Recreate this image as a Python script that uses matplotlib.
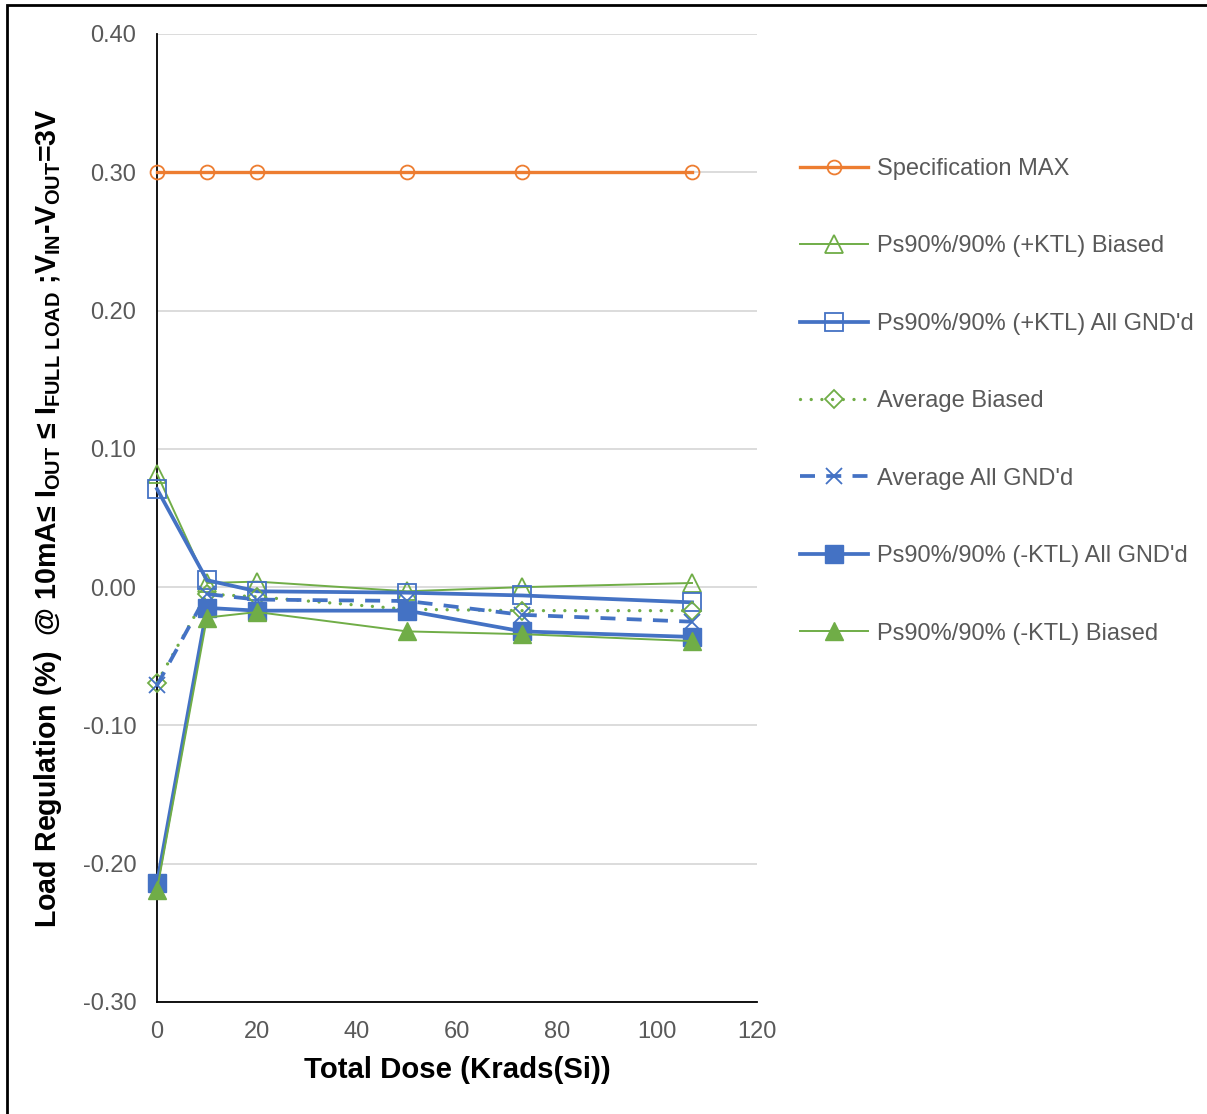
import matplotlib
matplotlib.use("Agg")
import matplotlib.pyplot as plt
from matplotlib.patches import Rectangle

plt.rcParams['font.family'] = ['Liberation Sans', 'DejaVu Sans']
plt.rcParams['mathtext.fontset'] = 'custom'
plt.rcParams['mathtext.rm'] = 'Liberation Sans:bold'
plt.rcParams['mathtext.bf'] = 'Liberation Sans:bold'
plt.rcParams['mathtext.default'] = 'bf'

# Total dose steps (Krads(Si))
dose = [0, 10, 20, 50, 73, 107]

spec_max = [0.30, 0.30, 0.30, 0.30, 0.30, 0.30]
pos_ktl_biased = [0.082, 0.003, 0.004, -0.003, 0.000, 0.003]
pos_ktl_gnd = [0.071, 0.005, -0.003, -0.004, -0.006, -0.011]
avg_biased = [-0.069, -0.005, -0.007, -0.016, -0.017, -0.017]
avg_gnd = [-0.071, -0.005, -0.009, -0.010, -0.020, -0.025]
neg_ktl_gnd = [-0.214, -0.015, -0.017, -0.017, -0.032, -0.036]
neg_ktl_biased = [-0.219, -0.022, -0.018, -0.032, -0.034, -0.039]

labels = ["Specification MAX", "Ps90%/90% (+KTL) Biased", "Ps90%/90% (+KTL) All GND'd",
          "Average Biased", "Average All GND'd", "Ps90%/90% (-KTL) All GND'd",
          "Ps90%/90% (-KTL) Biased"]
y_ticks = [-0.30, -0.20, -0.10, 0.00, 0.10, 0.20, 0.30, 0.40]
x_ticks = [0, 20, 40, 60, 80, 100, 120]

ORANGE = "#ED7D31"
GREEN = "#70AD47"
BLUE = "#4472C4"

fig = plt.figure(figsize=(12.07, 11.14), dpi=100)
ax = fig.add_axes([157 / 1207, 1 - 1002 / 1114, 600 / 1207, 968 / 1114])

common = dict(clip_on=False)
ax.plot(dose, spec_max, color=ORANGE, lw=2.4, marker='o', ms=10, mfc='none',
        mec=ORANGE, mew=1.3, label=labels[0], zorder=3, **common)
ax.plot(dose, pos_ktl_biased, color=GREEN, lw=1.4, marker='^', ms=13, mfc='none',
        mec=GREEN, mew=1.3, label=labels[1], zorder=4, **common)
ax.plot(dose, pos_ktl_gnd, color=BLUE, lw=2.7, marker='s', ms=12.5, mfc='none',
        mec=BLUE, mew=1.3, label=labels[2], zorder=5, **common)
ax.plot(dose, avg_biased, color=GREEN, lw=2.4, linestyle=(0, (0.01, 3.2)),
        dash_capstyle='round', marker='D', ms=9.5, mfc='none', mec=GREEN, mew=1.3,
        label=labels[3], zorder=6, **common)
ax.plot(dose, avg_gnd, color=BLUE, lw=2.7, linestyle=(0, (4, 3)), marker='x',
        ms=12, mec=BLUE, mew=1.3, label=labels[4], zorder=7, **common)
ax.plot(dose, neg_ktl_gnd, color=BLUE, lw=2.7, marker='s', ms=13, mfc=BLUE,
        mec=BLUE, label=labels[5], zorder=8, **common)
ax.plot(dose, neg_ktl_biased, color=GREEN, lw=1.4, marker='^', ms=13.5, mfc=GREEN,
        mec=GREEN, label=labels[6], zorder=9, **common)

ax.set_xlim(0, 120)
ax.set_ylim(-0.30, 0.40)
ax.set_xticks(x_ticks)
ax.set_yticks(y_ticks)
ax.set_yticklabels([f"{v:.2f}" for v in y_ticks])
ax.tick_params(axis='both', length=0, labelsize=17, labelcolor="#595959")
ax.tick_params(axis='y', pad=15)
ax.tick_params(axis='x', pad=14)
ax.grid(axis='y', color="#D9D9D9", lw=1.3)
ax.set_axisbelow(True)
for s in ['top', 'right']:
    ax.spines[s].set_visible(False)
for s in ['left', 'bottom']:
    ax.spines[s].set_color('black')
    ax.spines[s].set_linewidth(1.3)
ax.spines['left'].set_zorder(2.5)

ax.set_xlabel("Total Dose (Krads(Si))", fontsize=21.2, fontweight='bold', labelpad=9)
ax.set_ylabel(r"Load Regulation (%)  @ 10mA≤ I$_{OUT}$ ≤ I$_{FULL\ LOAD}$ ;V$_{IN}$-V$_{OUT}$=3V",
              fontsize=20.6, fontweight='bold', labelpad=13)

fig.legend(loc='upper left', bbox_to_anchor=(788 / 1207, 1 - 146 / 1114), frameon=False,
           fontsize=17, labelspacing=2.35, handlelength=2.9, handletextpad=0.35,
           labelcolor="#595959", borderpad=0)

# outer chart border
fig.patches.append(Rectangle((7 / 1207, -0.1), 1.2, 1.1 - 5 / 1114,
                             transform=fig.transFigure, fill=False, edgecolor='black',
                             lw=2, zorder=10))

fig.savefig("out.png", dpi=100)
